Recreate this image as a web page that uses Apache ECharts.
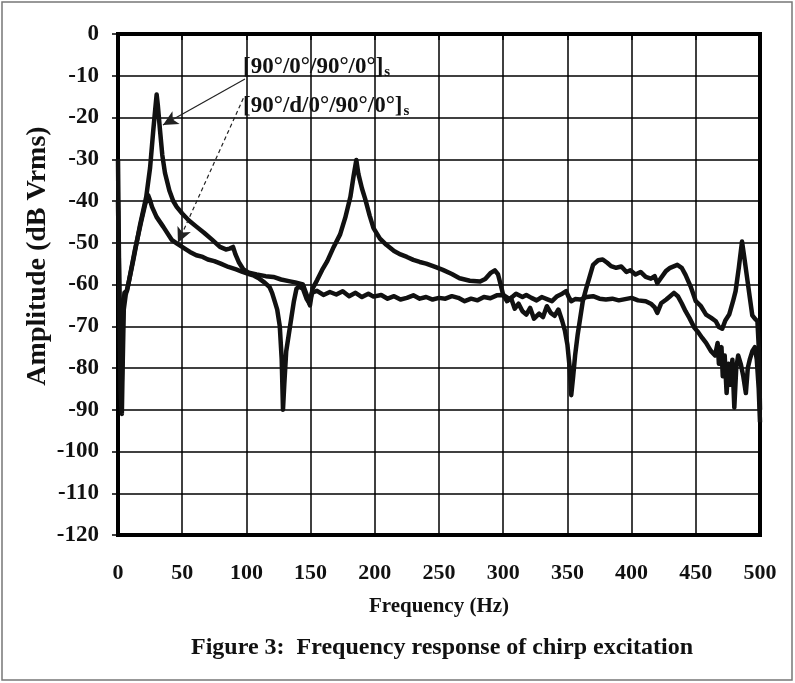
<!DOCTYPE html>
<html><head><meta charset="utf-8">
<script src="https://cdn.jsdelivr.net/npm/echarts@6/dist/echarts.min.js"></script>
<style>html,body{margin:0;padding:0;background:#fff}#c{width:795px;height:683px}</style>
</head><body><div id="c"></div>
<script>
// ---- data ----
const xTickLabels = ['0','50','100','150','200','250','300','350','400','450','500'];
const yTickLabels = ['0','-10','-20','-30','-40','-50','-60','-70','-80','-90','-100','-110','-120'];
const seriesNames = ['[90°/0°/90°/0°]s', '[90°/d/0°/90°/0°]s'];

// [frequency Hz, amplitude dB Vrms]
const seriesA = [[0,-30],[0.8,-55],[1.6,-75],[2.5,-89],[3.2,-80],[4,-66],[5,-62],[7,-61.5],[12,-54],[17,-46],[22,-39],[25,-32],[27.5,-23],[29,-18],[30.1,-14.5],[31,-17],[32.7,-23],[34.5,-29],[36.6,-33.3],[40,-37.5],[43,-40],[45.7,-41.4],[50,-43],[55,-44.6],[61.3,-46.2],[67,-47.6],[73,-49.2],[79.4,-51],[84,-51.6],[87,-51.4],[89.6,-51],[91.5,-52.8],[94,-54.6],[97.4,-56.3],[102,-57.2],[108,-57.6],[115,-58],[121,-58.2],[127,-58.8],[133,-59.2],[138,-59.5],[144,-60],[147,-62.5],[149.5,-65],[151.5,-61],[155,-59],[159,-56.5],[163,-54.4],[168,-51],[173,-48],[177,-44],[181,-39],[183.5,-34],[185.6,-30.2],[187.2,-33.5],[190,-37],[192.5,-39.5],[196,-43.5],[199,-46.5],[204,-49],[209,-50.5],[215,-52],[220,-52.8],[225,-53.4],[230,-54.1],[235,-54.6],[240,-55],[247,-55.8],[253,-56.5],[260,-57.5],[266,-58.5],[274,-59.1],[282,-59.3],[286,-58.7],[290,-57.3],[293.5,-56.6],[296,-57.6],[298,-60],[300,-62.5],[303,-64],[306,-63.2],[309,-65.8],[312,-64.6],[315,-66.4],[318,-67.2],[321,-65.6],[324,-68.2],[328,-67],[331,-67.8],[334,-65.2],[337,-66.8],[340,-67.5],[343,-66],[346,-68.8],[348,-71],[350,-74.4],[351.8,-80],[353,-86.5],[354.5,-82],[356,-77],[358,-72],[360,-68],[362,-64],[364.6,-61],[367,-58.5],[370,-55.3],[374,-54.2],[377.5,-54],[381,-54.8],[384,-55.6],[388,-56],[392,-55.7],[396,-57],[399,-56.6],[403,-57.6],[407,-57],[411,-58.2],[415,-58.6],[418,-58],[420,-59.7],[423,-58.4],[426.7,-56.8],[430,-56],[435.6,-55.3],[439,-56],[442,-57.7],[446,-60.5],[450,-64],[454,-65.2],[458,-67.2],[462,-68],[465.6,-68.8],[468,-70.2],[470.6,-70.6],[473,-68.6],[476,-67.2],[479,-64],[481,-61.6],[483.5,-56],[486,-49.7],[488,-54],[490,-58.5],[492,-63],[494,-67.4],[496,-68.2],[498,-68.8],[499.2,-76],[500,-90]];

const seriesB = [[0,-40],[1,-62],[2,-85],[3,-91],[3.6,-80],[4.5,-66],[6,-62.5],[8,-60],[13,-52],[18,-45],[21,-41],[23.4,-38.6],[24.9,-39.8],[26.5,-41.4],[30,-43.8],[35.3,-46.2],[41.8,-49.3],[46,-50.2],[52,-51.4],[56,-52.2],[61,-53],[66,-53.4],[70,-54],[75,-54.4],[80,-55],[86,-55.8],[92,-56.4],[97,-57],[102,-57.5],[106,-57.9],[110,-58.6],[114,-59.5],[118,-60.6],[120,-62],[122,-64],[124,-66],[126,-70],[127.5,-78],[128.5,-90],[129.5,-84],[131,-76],[133,-72],[135,-68],[137,-64],[139,-61],[141,-60.5],[144,-61],[147,-63.5],[149,-64.5],[151,-62],[155,-61.5],[160,-62.5],[165,-61.8],[170,-62.4],[175,-61.6],[180,-62.8],[185,-62],[190,-63],[195,-62.2],[199,-62.9],[205,-62.5],[210,-63.4],[215,-62.8],[220,-63.6],[225,-63.2],[230,-62.6],[235,-63.4],[240,-63],[245,-63.6],[250,-63.2],[255,-63.4],[260,-62.8],[265,-63.2],[270,-64],[275,-63.4],[280,-63.8],[285,-63],[290,-63.3],[295,-62.6],[300,-62.5],[305,-63.5],[310,-62.2],[315,-63],[318,-62.5],[322,-63.2],[326,-63.8],[330,-63],[334,-63.5],[338,-64],[342,-62.8],[346,-62.2],[349,-61.6],[351,-63],[353,-64],[356,-63.5],[360,-63.6],[365,-63],[370,-62.8],[375,-63.4],[380,-63.6],[385,-63.4],[390,-63.8],[395,-63.5],[400,-63.2],[405,-63.8],[411,-64],[415,-64.6],[418,-65.5],[420,-66.8],[423,-64.5],[427,-63.6],[430,-62.8],[433,-62],[436,-62.8],[439,-64.5],[442,-66.4],[445,-68],[449,-70.4],[452,-71.5],[455,-72.8],[458,-74],[461.7,-75.9],[465,-77],[467,-74],[468,-79],[470,-75],[471,-82],[472.5,-77],[474,-86],[475.5,-79],[477,-84],[478.5,-78],[480,-89.5],[481.5,-80],[483,-77],[485,-79],[487,-82],[489,-86],[490.5,-80],[492,-78],[494,-76],[496,-75],[497.5,-78],[499,-85],[500,-93]];

// annotation anchors in data coordinates
const labelAnchors = [[97.4,-7.9],[97.4,-17.2]];
const arrowA = [[98.9,-10.8],[35,-21.8]];
const arrowB = [[97.6,-15.4],[46.7,-50]];

const FONT = 'Liberation Serif';
const chart = echarts.init(document.getElementById('c'), null, {renderer:'canvas'});
const axisText = {fontFamily:FONT, fontWeight:'bold', color:'#111'};

chart.setOption({
  animation:false,
  backgroundColor:'#fff',
  grid:{left:118,right:35,top:34,bottom:148,show:true,borderColor:'#000',borderWidth:4,backgroundColor:'transparent'},
  xAxis:{type:'value',min:0,max:500,interval:50,
    name:'Frequency (Hz)',nameLocation:'middle',nameGap:61,
    nameTextStyle:Object.assign({fontSize:21},axisText),
    axisLine:{show:false},
    axisTick:{show:true,length:6,lineStyle:{color:'#000',width:1.5}},
    axisLabel:Object.assign({fontSize:22,margin:27,formatter:(v)=>xTickLabels[Math.round(v/50)]},axisText),
    splitLine:{show:true,lineStyle:{color:'#000',width:1.5}}},
  yAxis:{type:'value',min:-120,max:0,interval:10,
    axisLine:{show:false},
    axisTick:{show:true,length:6,lineStyle:{color:'#000',width:1.5}},
    axisLabel:Object.assign({fontSize:23,margin:19,formatter:(v)=>yTickLabels[Math.round(-v/10)]},axisText),
    splitLine:{show:true,lineStyle:{color:'#000',width:1.5}}},
  series:[
    {name:seriesNames[0],type:'line',data:seriesA,showSymbol:false,symbol:'none',
     lineStyle:{color:'#111',width:4.5,join:'round'},z:3,
     markLine:{silent:true,symbolSize:[11,15],label:{show:false},
       lineStyle:{color:'#222',width:1.2,type:'solid'},
       data:[[{coord:arrowA[0],symbol:'none'},{coord:arrowA[1],symbol:'arrow'}],
             [{coord:arrowB[0],symbol:'none',lineStyle:{type:[4,3]}},{coord:arrowB[1],symbol:'arrow'}]]}},
    {name:seriesNames[1],type:'line',data:seriesB,showSymbol:false,symbol:'none',
     lineStyle:{color:'#111',width:4.5,join:'round'},z:3}
  ]
});

function richLabel(main){
  return {
    text:'{m|'+main+'}{s|s}',
    rich:{m:{fontFamily:FONT,fontWeight:'bold',fontSize:23,fill:'#111'},
          s:{fontFamily:FONT,fontWeight:'bold',fontSize:15,fill:'#111',verticalAlign:'bottom',padding:[10,0,0,1]}},
    verticalAlign:'middle', align:'left'
  };
}
const p1 = chart.convertToPixel({gridIndex:0}, labelAnchors[0]);
const p2 = chart.convertToPixel({gridIndex:0}, labelAnchors[1]);
chart.setOption({graphic:[
  {type:'rect',shape:{x:2,y:2,width:790,height:678},style:{fill:'none',stroke:'#777',lineWidth:1.5},silent:true},
  {type:'text',x:p1[0],y:p1[1],z:10,style:richLabel('[90°/0°/90°/0°]')},
  {type:'text',x:p2[0],y:p2[1],z:10,style:richLabel('[90°/d/0°/90°/0°]')},
  {type:'text',x:38,y:256,rotation:Math.PI/2,z:10,
   style:{text:'Amplitude (dB Vrms)',fontFamily:FONT,fontWeight:'bold',fontSize:28,fill:'#111',align:'center',verticalAlign:'middle'}},
  {type:'text',x:442,y:648,z:10,
   style:{text:'Figure 3:  Frequency response of chirp excitation',fontFamily:FONT,fontWeight:'bold',fontSize:24,fill:'#111',align:'center',verticalAlign:'middle'}}
]});
</script></body></html>
